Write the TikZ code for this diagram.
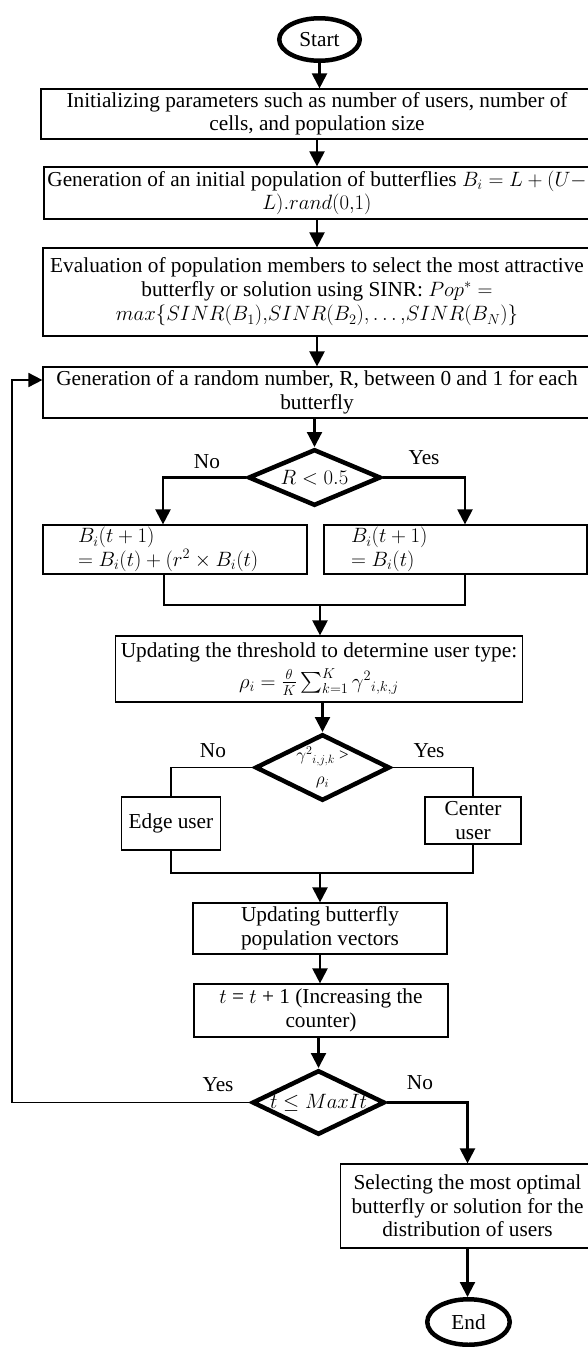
\documentclass[tikz,border=0pt]{standalone}
\usepackage{exscale}
\usepackage{fontspec}
\setmainfont{Liberation Serif}
\usetikzlibrary{shapes.geometric,arrows.meta}
\begin{document}
\begin{tikzpicture}[x=1pt,y=-1pt,
  every node/.style={font=\fontsize{21.3}{23.5}\selectfont, inner sep=0pt},
  box/.style={draw, line width=1.2pt, align=center},
  dec/.style={draw, diamond, line width=4.5pt},
  term/.style={draw, ellipse, line width=4.5pt},
  arr/.style={line width=2.2pt, -{Triangle[length=15pt,width=15pt]}},
  ln/.style={line width=1.6pt},
  lbl/.style={}]
\useasboundingbox (0,0) rectangle (588,1347);
\clip (0,0) rectangle (588,1347);

% terminals
\node[term, minimum width=80.5pt, minimum height=42.5pt] (start) at (319.5,39.5) {Start};
\node[term, minimum width=82.5pt, minimum height=45.5pt] (end) at (468.5,1322) {End};

% process boxes
\node[box, minimum width=552pt, minimum height=50pt] (b1) at (317,114)
  {Initializing parameters such as number of users, number of\\cells, and population size};
\node[box, minimum width=546pt, minimum height=52pt] (b2) at (317,193)
  {Generation of an initial population of butterflies $B_i = L + (U -$\\$L).rand(0{,}1)$};
\node[box, minimum width=548pt, minimum height=88pt] (b3) at (317,292)
  {Evaluation of population members to select the most attractive\\butterfly or solution using SINR: $Pop^{*} =$\\[1pt]$max\{SINR(B_1){,}SINR(B_2){,}\ldots{,}SINR(B_N)\}$};
\node[box, minimum width=548pt, minimum height=51pt] (b4) at (317,392.5)
  {Generation of a random number, R, between 0 and 1 for each\\butterfly};
\node[box, minimum width=264pt, minimum height=49pt, text width=194pt, inner xsep=35pt, align=left] (b5) at (175,549.5)
  {\mbox{$B_i(t+1)$}\\\mbox{$= B_i(t) + (r^2 \times B_i(t)$}};
\node[box, minimum width=263pt, minimum height=49pt, text width=209pt, inner xsep=27pt, align=left] (b6) at (455.5,549.5)
  {\mbox{$B_i(t+1)$}\\\mbox{$= B_i(t)$}};
\node[box, minimum width=406.5pt, minimum height=66pt] (b7) at (319,669)
  {Updating the threshold to determine user type:\\[5pt]$\rho_i = \frac{\theta}{K}\sum_{k=1}^{K}\gamma^{2}{}_{i,k,j}$};
\node[box, minimum width=98.5pt, minimum height=53pt] (edge) at (171,823.5) {Edge user};
\node[box, minimum width=96pt, minimum height=47pt] (cen) at (473,820.5) {Center\\user};
\node[box, minimum width=254pt, minimum height=51pt] (b8) at (320,928.5)
  {Updating butterfly\\population vectors};
\node[box, minimum width=254pt, minimum height=53pt] (b9) at (321,1010.5)
  {$t$ = $t$ + 1 (Increasing the\\counter)};
\node[box, minimum width=254pt, minimum height=84pt] (b10) at (467.5,1206)
  {Selecting the most optimal\\butterfly or solution for the\\distribution of users};

% decisions
\node[dec, minimum width=132.5pt, minimum height=56.5pt] (d1) at (314.5,477.5)
  {\makebox[0pt]{$R < 0.5$}};
\node[dec, minimum width=134.5pt, minimum height=66.5pt, align=center, font=\fontsize{17}{24}\selectfont] (d2) at (322.5,767.5)
  {\makebox[0pt]{$\gamma^{2}{}_{i,j,k}$ >}\\\makebox[0pt]{$\rho_i$}};
\node[dec, minimum width=132.5pt, minimum height=64.5pt] (d3) at (318.5,1102.5)
  {\makebox[0pt]{$t \le MaxIt$}};

% labels
\node[lbl] (l1) at (207,462) {No};
\node[lbl] (l2) at (424,458) {Yes};
\node[lbl] (l3) at (213,751) {No};
\node[lbl] (l4) at (429,751) {Yes};
\node[lbl] (l5) at (218,1085) {Yes};
\node[lbl] (l6) at (420,1083) {No};

% connectors
\draw[arr] (start.south) -- (start.south |- b1.north);
\draw[arr] (b1.south) -- (b2.north);
\draw[arr] (b2.south) -- (b3.north);
\draw[arr] (b3.south) -- (b4.north);
\draw[arr] (b4.south -| d1.north) -- (d1.north);
\draw[arr] (d1.west) -| ([xshift=-12pt]b5.north);
\draw[arr] (d1.east) -| ([xshift=9.5pt]b6.north);
\coordinate (m1) at (320,605);
\draw[ln] ([xshift=-11pt]b5.south) |- (m1) -| ([xshift=9.5pt]b6.south);
\draw[arr] (m1) -- (m1 |- b7.north);
\draw[arr] (b7.south -| d2.north) -- (d2.north);
\draw[ln] (d2.west) -| (edge.north);
\draw[ln] (d2.east) -| (cen.north);
\coordinate (m2) at (320,873);
\draw[ln] (edge.south) |- (m2) -| (cen.south);
\draw[arr] (m2) -- (m2 |- b8.north);
\draw[arr] (b8.south) -- (b8.south |- b9.north);
\draw[arr] (b9.south -| d3.north) -- (d3.north);
\coordinate (lp) at (12,380);
\draw[line width=1.8pt, -{Triangle[length=14pt,width=14pt]}] (d3.west) -- (d3.west -| lp) -- (lp) -- (lp -| b4.west);
\draw[arr] (d3.east) -| (b10.north);
\draw[arr] (b10.south) -- (b10.south |- end.north);
\end{tikzpicture}
\end{document}
